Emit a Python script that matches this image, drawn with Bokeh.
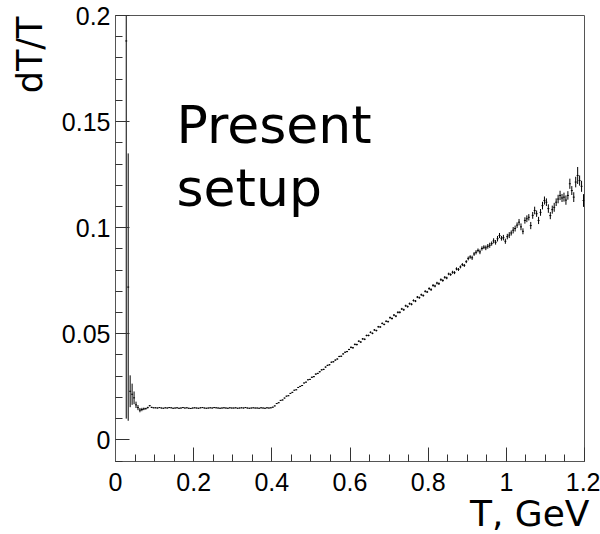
import numpy as np
from bokeh.plotting import figure
from bokeh.models import Range1d, FixedTicker, Label, ColumnDataSource, Title
from bokeh.embed import file_html
from bokeh.resources import INLINE

# ---- binning of the histogram (T, GeV) ----
bin_start = 0.025
bin_width = 0.005

# ---- dT/T values and errors ----
low_vals = [0.188, 0.072, 0.0229, 0.0215, 0.0198, 0.0165, 0.0152, 0.0140, 0.0143, 0.0146]
low_errs = [0.178, 0.063, 0.0075, 0.0050, 0.0030, 0.0015, 0.0012, 0.0010, 0.0008, 0.0006]

flat_vals = [0.0147, 0.0152, 0.0161, 0.0153, 0.0151,
             0.0151, 0.0150, 0.0152, 0.0150, 0.0149, 0.0151, 0.0150, 0.0152, 0.0151, 0.0149,
             0.0150, 0.0151, 0.0149, 0.0150, 0.0152, 0.0150, 0.0151, 0.0149, 0.0148, 0.0150,
             0.0151, 0.0150, 0.0149, 0.0151, 0.0152, 0.0150, 0.0149, 0.0150, 0.0151, 0.0150,
             0.0152, 0.0151, 0.0150, 0.0149, 0.0150, 0.0151, 0.0150, 0.0149, 0.0151, 0.0150,
             0.0150, 0.0151, 0.0149, 0.0150, 0.0151, 0.0150, 0.0152, 0.0150, 0.0149, 0.0150,
             0.0151, 0.0150, 0.0150, 0.0149, 0.0151, 0.0150, 0.0149, 0.0151, 0.0150, 0.0151]
flat_errs = [0.0004, 0.0004, 0.0003, 0.0003, 0.0002,
             0.0002, 0.0002, 0.0002, 0.0002, 0.0002, 0.0002, 0.0002, 0.0002, 0.0002, 0.0002,
             0.0002, 0.0002, 0.0002, 0.0002, 0.0002, 0.0002, 0.0002, 0.0002, 0.0002, 0.0002,
             0.0002, 0.0002, 0.0002, 0.0002, 0.0002, 0.0002, 0.0002, 0.0002, 0.0002, 0.0002,
             0.0002, 0.0002, 0.0002, 0.0002, 0.0002, 0.0002, 0.0002, 0.0002, 0.0002, 0.0002,
             0.0002, 0.0002, 0.0002, 0.0002, 0.0002, 0.0002, 0.0002, 0.0002, 0.0002, 0.0002,
             0.0002, 0.0002, 0.0002, 0.0002, 0.0002, 0.0002, 0.0002, 0.0002, 0.0002, 0.0002]

rise_vals = [0.0154, 0.0160, 0.0171, 0.0175, 0.0186, 0.0188, 0.0197, 0.0206, 0.0208, 0.0219,
             0.0224, 0.0234, 0.0236, 0.0247, 0.0252, 0.0256, 0.0268, 0.0272, 0.0283, 0.0285,
             0.0295, 0.0298, 0.0310, 0.0313, 0.0321, 0.0330, 0.0332, 0.0343, 0.0351, 0.0354,
             0.0366, 0.0368, 0.0376, 0.0381, 0.0393, 0.0394, 0.0405, 0.0413, 0.0416, 0.0426,
             0.0436, 0.0434, 0.0450, 0.0449, 0.0465, 0.0461, 0.0476, 0.0474, 0.0492, 0.0492,
             0.0507, 0.0502, 0.0518, 0.0515, 0.0533, 0.0532, 0.0549, 0.0544, 0.0559, 0.0557,
             0.0576, 0.0572, 0.0588, 0.0583, 0.0601, 0.0601, 0.0617, 0.0613, 0.0632, 0.0628,
             0.0642, 0.0639, 0.0657, 0.0654, 0.0673, 0.0670, 0.0684, 0.0680, 0.0700, 0.0697,
             0.0713, 0.0708, 0.0728, 0.0725, 0.0739, 0.0736, 0.0755, 0.0751, 0.0766, 0.0763,
             0.0782, 0.0779, 0.0790, 0.0788, 0.0806, 0.0803, 0.0815, 0.0826, 0.0822, 0.0840,
             0.0855, 0.0862, 0.0858, 0.0876, 0.0884, 0.0893, 0.0886, 0.0902, 0.0908, 0.0905,
             0.0912, 0.0917, 0.0925, 0.0938, 0.0931, 0.0948, 0.0963, 0.0950, 0.0953, 0.0936,
             0.0958, 0.0965, 0.0975, 0.0988, 0.0996, 0.1012, 0.1026, 0.1004, 0.0983, 0.1034,
             0.1042, 0.1049, 0.1010, 0.1058, 0.1081, 0.1066, 0.1034, 0.1072, 0.1104, 0.1128,
             0.1120, 0.1090, 0.1057, 0.1085, 0.1096, 0.1120, 0.1135, 0.1152, 0.1140, 0.1144,
             0.1130, 0.1152, 0.1207, 0.1175, 0.1144, 0.1215, 0.1246, 0.1222, 0.1195, 0.1128]
rise_errs = [0.0002, 0.0002, 0.0002, 0.0002, 0.0002, 0.0002, 0.0002, 0.0002, 0.0002, 0.0002,
             0.0002, 0.0002, 0.0002, 0.0002, 0.0002, 0.0002, 0.0002, 0.0002, 0.0002, 0.0002,
             0.0003, 0.0003, 0.0003, 0.0003, 0.0003, 0.0003, 0.0003, 0.0003, 0.0003, 0.0003,
             0.0003, 0.0003, 0.0003, 0.0003, 0.0003, 0.0003, 0.0003, 0.0003, 0.0003, 0.0003,
             0.0004, 0.0004, 0.0004, 0.0004, 0.0004, 0.0004, 0.0004, 0.0004, 0.0004, 0.0004,
             0.0004, 0.0004, 0.0004, 0.0004, 0.0004, 0.0004, 0.0004, 0.0004, 0.0004, 0.0004,
             0.0005, 0.0005, 0.0005, 0.0005, 0.0005, 0.0005, 0.0005, 0.0005, 0.0005, 0.0005,
             0.0005, 0.0005, 0.0005, 0.0005, 0.0005, 0.0005, 0.0005, 0.0005, 0.0005, 0.0005,
             0.0006, 0.0006, 0.0006, 0.0006, 0.0006, 0.0006, 0.0006, 0.0006, 0.0006, 0.0006,
             0.0006, 0.0006, 0.0007, 0.0007, 0.0007, 0.0007, 0.0007, 0.0007, 0.0007, 0.0007,
             0.0009, 0.0008, 0.0010, 0.0009, 0.0010, 0.0009, 0.0011, 0.0010, 0.0009, 0.0011,
             0.0011, 0.0012, 0.0010, 0.0012, 0.0011, 0.0013, 0.0012, 0.0011, 0.0013, 0.0012,
             0.0013, 0.0014, 0.0012, 0.0015, 0.0014, 0.0013, 0.0015, 0.0016, 0.0014, 0.0015,
             0.0016, 0.0015, 0.0017, 0.0016, 0.0018, 0.0015, 0.0017, 0.0016, 0.0018, 0.0019,
             0.0018, 0.0020, 0.0017, 0.0019, 0.0021, 0.0018, 0.0020, 0.0022, 0.0019, 0.0021,
             0.0022, 0.0020, 0.0024, 0.0021, 0.0023, 0.0025, 0.0040, 0.0024, 0.0026, 0.0030]

# ---- axes ----
x_ticks = [0, 0.2, 0.4, 0.6, 0.8, 1.0, 1.2]
x_tick_labels = ["0", "0.2", "0.4", "0.6", "0.8", "1", "1.2"]
x_minor_ticks = [0.05, 0.1, 0.15, 0.25, 0.3, 0.35, 0.45, 0.5, 0.55, 0.65, 0.7, 0.75,
                 0.85, 0.9, 0.95, 1.05, 1.1, 1.15]
y_ticks = [0, 0.05, 0.1, 0.15, 0.2]
y_tick_labels = ["0", "0.05", "0.1", "0.15", "0.2"]
y_minor_ticks = [-0.01, 0.01, 0.02, 0.03, 0.04, 0.06, 0.07, 0.08, 0.09, 0.11, 0.12, 0.13,
                 0.14, 0.16, 0.17, 0.18, 0.19]

x_title = "T, GeV"
y_title = "dT/T"
note_lines = ["Present", "setup"]

vals = np.array(low_vals + flat_vals + rise_vals)
errs = np.array(low_errs + flat_errs + rise_errs)
centers = bin_start + bin_width * (np.arange(len(vals)) + 0.5)

src = ColumnDataSource(dict(
    x=centers, y=vals,
    ylo=vals - errs, yhi=vals + errs,
    xlo=centers - bin_width / 2, xhi=centers + bin_width / 2,
))

p = figure(width=600, height=534, output_backend="svg", toolbar_location=None,
           x_range=Range1d(0, 1.2), y_range=Range1d(-0.0102, 0.2),
           min_border_left=115, min_border_right=16, min_border_top=15, min_border_bottom=73)
p.grid.visible = False
p.background_fill_color = "white"
p.border_fill_color = "white"
p.outline_line_color = "#555555"
p.outline_line_width = 1

p.segment(x0="x", y0="ylo", x1="x", y1="yhi", source=src, line_color="black", line_width=1)
p.segment(x0="xlo", y0="y", x1="xhi", y1="y", source=src, line_color="black", line_width=1)

xa = p.xaxis[0]
xa.ticker = FixedTicker(ticks=x_ticks, minor_ticks=x_minor_ticks)
xa.major_label_overrides = {t: l for t, l in zip(x_ticks, x_tick_labels)}
xa.major_label_standoff = 11
ya = p.yaxis[0]
ya.ticker = FixedTicker(ticks=y_ticks, minor_ticks=y_minor_ticks)
ya.major_label_overrides = {t: l for t, l in zip(y_ticks, y_tick_labels)}
ya.major_label_standoff = 5

for ax in (xa, ya):
    ax.axis_line_color = "#555555"
    ax.major_tick_line_color = "#333333"
    ax.minor_tick_line_color = "#333333"
    ax.major_tick_in = 14
    ax.major_tick_out = 0
    ax.minor_tick_in = 7
    ax.minor_tick_out = 0
    ax.major_label_text_font = "Liberation Sans"
    ax.major_label_text_font_size = "25px"
    ax.major_label_text_color = "black"

p.add_layout(Title(text=x_title, align="right", offset=-5, vertical_align="bottom",
                   standoff=-5,
                   text_font="DejaVu Sans", text_font_size="36px",
                   text_font_style="normal", text_color="black"), "below")
p.add_layout(Title(text=y_title, align="right", offset=1, vertical_align="top",
                   standoff=14,
                   text_font="DejaVu Sans", text_font_size="35px",
                   text_font_style="normal", text_color="black"), "left")

p.add_layout(Label(x=0.156, y=0.1486, text=note_lines[0], text_align="left",
                   text_baseline="alphabetic", text_font="DejaVu Sans",
                   text_font_size="52px", text_color="black"))
p.add_layout(Label(x=0.156, y=0.1189, text=note_lines[1], text_align="left",
                   text_baseline="alphabetic", text_font="DejaVu Sans",
                   text_font_size="52px", text_color="black"))

open("out.html", "w").write(file_html(p, INLINE))
